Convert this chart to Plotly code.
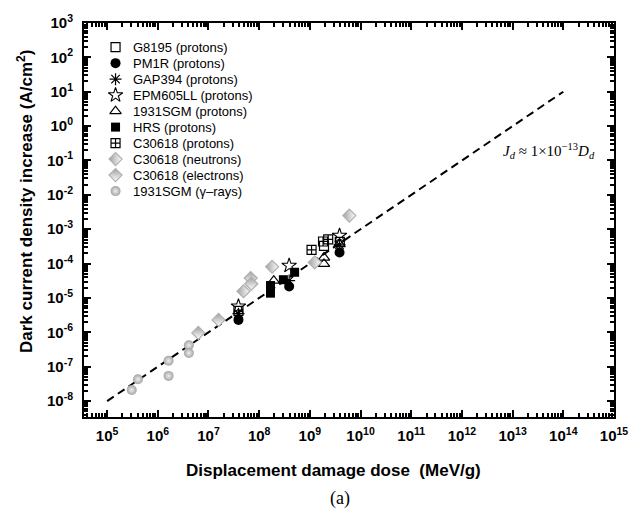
import plotly.graph_objects as go

# ---- data (MeV/g, A/cm^2) ----
g8195_dose = [3.9e7, 1.9e9, 3.9e9]
g8195_jd = [4.2e-6, 3.3e-4, 4.3e-4]

pm1r_dose = [3.9e7, 3.9e8, 3.85e9]
pm1r_jd = [2.3e-6, 2.15e-5, 2.1e-4]

gap394_dose = [3.9e7, 3.9e8, 3.85e9]
gap394_jd = [3.5e-6, 3.2e-5, 3.5e-4]

epm_dose = [3.9e7, 3.9e8, 3.85e9]
epm_jd = [5.7e-6, 8.7e-5, 6.5e-4]

sgm_p_dose = [1.94e8, 1.9e9, 1.9e9, 3.85e9]
sgm_p_jd = [3.2e-5, 9.8e-5, 1.5e-4, 3.7e-4]

hrs_dose = [1.67e8, 1.67e8, 3.0e8, 5.0e8]
hrs_jd = [1.38e-5, 2.3e-5, 3.4e-5, 5.6e-5]

c30618_p_dose = [1.08e9, 1.82e9, 2.3e9]
c30618_p_jd = [2.5e-4, 4.4e-4, 5.1e-4]

c30618_n_dose = [4.9e7, 1.8e8, 1.25e9, 6.0e9]
c30618_n_jd = [1.57e-5, 8.1e-5, 1.08e-4, 2.5e-3]

c30618_e_dose = [6.3e6, 1.58e7, 6.8e7, 7.0e7]
c30618_e_jd = [9.6e-7, 2.3e-6, 3.8e-5, 2.6e-5]

sgm_g_dose = [3.06e5, 4.06e5, 1.63e6, 1.63e6, 4.1e6, 4.1e6]
sgm_g_jd = [2.1e-8, 4.3e-8, 1.49e-7, 5.4e-8, 4.2e-7, 2.5e-7]

fit_dose = [1e5, 1e14]
fit_coeff = 1e-13

x_tick_exps = list(range(5, 16))
y_tick_exps = list(range(-8, 4))

series_names = [
    "G8195 (protons)", "PM1R (protons)", "GAP394 (protons)",
    "EPM605LL (protons)", "1931SGM (protons)", "HRS (protons)",
    "C30618 (protons)", "C30618 (neutrons)", "C30618 (electrons)",
    "1931SGM (\u03b3\u2013rays)",
]

GRAY = "#b0b0b0"
styles = [
    dict(symbol="square-open", size=9, color="black", line=dict(color="black", width=1.2)),
    dict(symbol="circle", size=10, color="black", line=dict(color="black", width=0)),
    dict(symbol="asterisk-open", size=10, color="black", line=dict(color="black", width=1.2)),
    dict(symbol="star-open", size=11, color="black", line=dict(color="black", width=1.1)),
    dict(symbol="triangle-up-open", size=10, color="black", line=dict(color="black", width=1.2)),
    dict(symbol="square", size=9, color="black", line=dict(color="black", width=0)),
    dict(symbol="square-cross-open", size=9, color="black", line=dict(color="black", width=1.2)),
    dict(symbol="diamond", size=10, color="#a0a0a0", line=dict(color=GRAY, width=1.2),
         gradient=dict(type="horizontal", color="white")),
    dict(symbol="diamond", size=10, color="#a0a0a0", line=dict(color=GRAY, width=1.2),
         gradient=dict(type="vertical", color="white")),
    dict(symbol="circle", size=10, color="#a4a4a4", line=dict(color="#a4a4a4", width=0),
         gradient=dict(type="radial", color="#eeeeee")),
]

series_data = [
    (g8195_dose, g8195_jd), (pm1r_dose, pm1r_jd), (gap394_dose, gap394_jd),
    (epm_dose, epm_jd), (sgm_p_dose, sgm_p_jd), (hrs_dose, hrs_jd),
    (c30618_p_dose, c30618_p_jd), (c30618_n_dose, c30618_n_jd),
    (c30618_e_dose, c30618_e_jd), (sgm_g_dose, sgm_g_jd),
]

# plot-area geometry in pixels
W, H = 640, 518
L, R, T, B = 84, 621.7, 20.7, 417.3


def px_x(px):
    return (px - L) / (R - L)


def px_y(py):
    return (B - py) / (B - T)


fig = go.Figure()

# fitted trend J_d = 1e-13 D_d
fig.add_trace(go.Scatter(
    x=fit_dose, y=[fit_coeff * d for d in fit_dose], mode="lines",
    line=dict(color="black", width=2, dash="8px,5px"),
    showlegend=False, hoverinfo="skip"))

for name, (xs, ys), st in zip(series_names, series_data, styles):
    fig.add_trace(go.Scatter(x=xs, y=ys, mode="markers", name=name,
                             marker=dict(st), showlegend=False))

# hand-built legend on a pixel overlay axis
leg_x_sym, leg_x_txt, leg_y0, leg_dy = 116, 132, 45, 16.1
for i, (name, st) in enumerate(zip(series_names, styles)):
    yy = leg_y0 + i * leg_dy
    fig.add_trace(go.Scatter(x=[leg_x_sym], y=[yy], mode="markers", marker=dict(st),
                             xaxis="x2", yaxis="y2", showlegend=False, hoverinfo="skip"))
    fig.add_annotation(x=leg_x_txt, y=yy, xref="x2", yref="y2", text=name,
                       showarrow=False, xanchor="left", yanchor="middle",
                       font=dict(family="Liberation Sans, Arial", size=13, color="black"))

# fit equation
fig.add_annotation(x=px_x(556), y=px_y(150), xref="paper", yref="paper",
                   text="<i>J<sub>d</sub></i> \u2248 1\u00d710<sup>\u221213</sup><i>D<sub>d</sub></i>",
                   showarrow=False, xanchor="center", yanchor="middle",
                   font=dict(family="Liberation Serif, Times New Roman", size=15, color="black"))

# axis titles and panel label
fig.add_annotation(x=px_x(337), y=px_y(471), xref="paper", yref="paper",
                   text="<b>Displacement damage dose  (MeV/g)</b>", showarrow=False,
                   xanchor="center", yanchor="middle",
                   font=dict(family="Liberation Sans, Arial", size=17, color="black"))
fig.add_annotation(x=px_x(344), y=px_y(499), xref="paper", yref="paper",
                   text="(a)", showarrow=False, xanchor="center", yanchor="middle",
                   font=dict(family="Liberation Serif, Times New Roman", size=18, color="black"))
fig.add_annotation(x=px_x(24), y=px_y(200), xref="paper", yref="paper",
                   text="<b>Dark current density increase (A/cm<sup>2</sup>)</b>",
                   showarrow=False, textangle=-90, xanchor="center", yanchor="middle",
                   font=dict(family="Liberation Sans, Arial", size=17, color="black"))

minor_x = [m * 10 ** e for e in range(4, 15) for m in range(2, 10)]
minor_y = [m * 10 ** e for e in range(-9, 3) for m in range(2, 10)]

axis_common = dict(
    type="log", showgrid=False, zeroline=False, showline=True, linecolor="black",
    linewidth=2, ticks="inside", ticklen=7, tickwidth=2, tickcolor="black",
    mirror="allticks",
    tickfont=dict(family="Liberation Sans, Arial", size=15, color="black"),
)

fig.update_layout(
    width=W, height=H, margin=dict(l=L, r=W - R, t=T, b=H - B),
    paper_bgcolor="white", plot_bgcolor="white", showlegend=False,
    xaxis=dict(axis_common, range=[4.544, 15],
               tickvals=[10 ** e for e in x_tick_exps],
               ticktext=[f"<b>10<sup>{e}</sup></b>" for e in x_tick_exps],
               ticklabelstandoff=4,
               minor=dict(tickvals=minor_x, ticks="inside", ticklen=4, tickwidth=1.5,
                          tickcolor="black", showgrid=False)),
    yaxis=dict(axis_common, range=[-8.463, 3],
               tickvals=[10 ** e for e in y_tick_exps],
               ticktext=[f"<b>10<sup>{e}</sup></b>" for e in y_tick_exps],
               ticklabelstandoff=6,
               minor=dict(tickvals=minor_y, ticks="inside", ticklen=4, tickwidth=1.5,
                          tickcolor="black", showgrid=False)),
    xaxis2=dict(overlaying="x", range=[L, R], visible=False, fixedrange=True),
    yaxis2=dict(overlaying="y", range=[B, T], visible=False, fixedrange=True),
)

fig.write_html("out.html")
